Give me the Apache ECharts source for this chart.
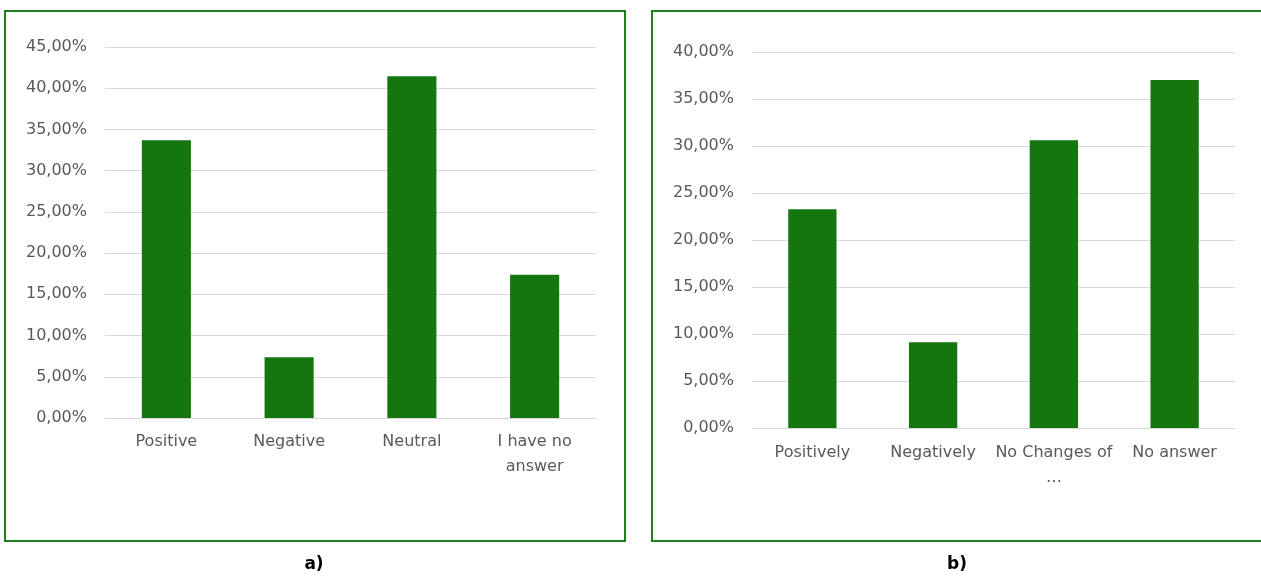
<!DOCTYPE html>
<html>
<head>
<meta charset="utf-8">
<script src="https://cdn.jsdelivr.net/npm/echarts@6/dist/echarts.min.js"></script>
<style>
  html, body { margin: 0; padding: 0; background: #ffffff; }
  #chart { width: 1261px; height: 577px; }
</style>
</head>
<body>
<div id="chart"></div>
<script>
// Panel a) — survey answers
const categoriesA = ['Positive', 'Negative', 'Neutral', 'I have no\nanswer'];
const valuesA = [33.68, 7.36, 41.45, 17.38];
const axisMaxA = 45;

// Panel b) — survey answers
const categoriesB = ['Positively', 'Negatively', 'No Changes of\n…', 'No answer'];
const valuesB = [23.27, 9.12, 30.6, 37.02];
const axisMaxB = 40;

const tickStep = 5;
const panelCaptions = ['a)', 'b)'];

const barColor = '#15760F';
const frameColor = '#1F8022';
const textColor = '#595959';
const gridColor = '#D9D9D9';
const font = 'DejaVu Sans, Verdana, sans-serif';

const pct = v => v.toFixed(2).replace('.', ',') + '%';

function xAxisFor(gridIndex, cats, margin) {
  return {
    type: 'category', gridIndex, data: cats,
    axisTick: { show: false },
    axisLine: { show: true, lineStyle: { color: gridColor, width: 1 } },
    axisLabel: { color: textColor, fontSize: 16, fontFamily: font, lineHeight: 25,
                 margin, interval: 0, align: 'center' }
  };
}
function yAxisFor(gridIndex, max) {
  return {
    type: 'value', gridIndex, min: 0, max, interval: tickStep,
    axisLine: { show: false }, axisTick: { show: false },
    splitLine: { lineStyle: { color: gridColor, width: 1 } },
    axisLabel: { color: textColor, fontSize: 16, fontFamily: font, margin: 18, formatter: pct }
  };
}

const chart = echarts.init(document.getElementById('chart'), null, { renderer: 'canvas' });
chart.setOption({
  animation: false,
  backgroundColor: '#ffffff',
  grid: [
    { left: 105, right: 665, top: 47, bottom: 159 },
    { left: 752, right: 26, top: 52, bottom: 149 }
  ],
  xAxis: [xAxisFor(0, categoriesA, 11), xAxisFor(1, categoriesB, 12)],
  yAxis: [yAxisFor(0, axisMaxA), yAxisFor(1, axisMaxB)],
  series: [
    { type: 'bar', xAxisIndex: 0, yAxisIndex: 0, data: valuesA, barWidth: '40%',
      itemStyle: { color: barColor } },
    { type: 'bar', xAxisIndex: 1, yAxisIndex: 1, data: valuesB, barWidth: '40%',
      itemStyle: { color: barColor } }
  ],
  graphic: [
    { type: 'rect', shape: { x: 5, y: 11, width: 620, height: 530 },
      style: { fill: null, stroke: frameColor, lineWidth: 2 }, silent: true },
    { type: 'rect', shape: { x: 652, y: 11, width: 620, height: 530 },
      style: { fill: null, stroke: frameColor, lineWidth: 2 }, silent: true },
    { type: 'text', x: 314, y: 565,
      style: { text: panelCaptions[0], fill: '#000000', font: 'bold 17px ' + font,
               textAlign: 'center', textVerticalAlign: 'middle' } },
    { type: 'text', x: 957, y: 565,
      style: { text: panelCaptions[1], fill: '#000000', font: 'bold 17px ' + font,
               textAlign: 'center', textVerticalAlign: 'middle' } }
  ]
});
</script>
</body>
</html>
